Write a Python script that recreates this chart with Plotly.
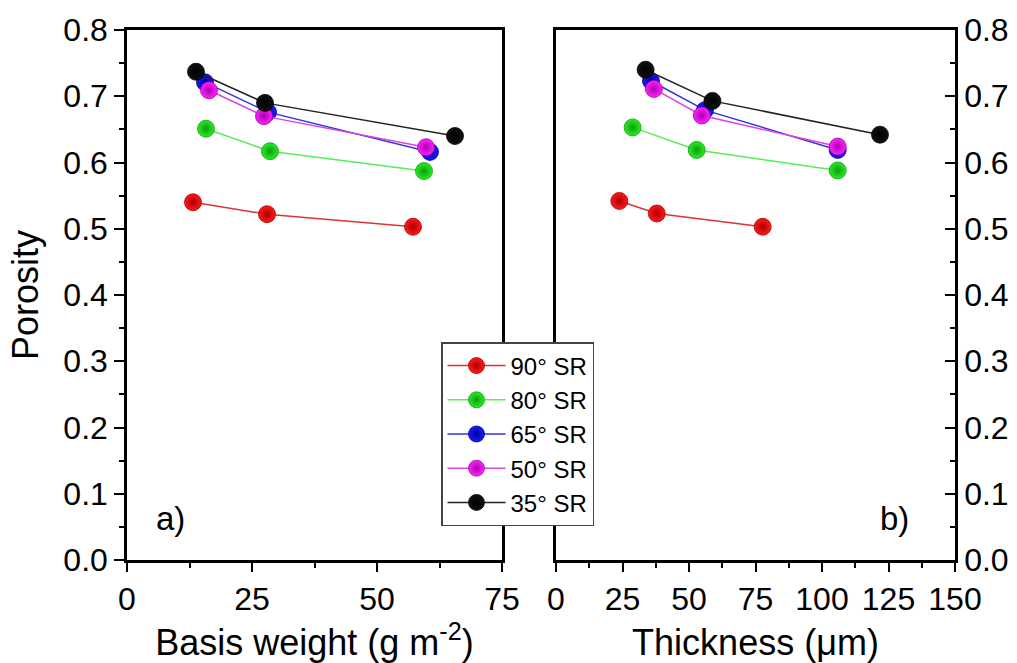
import plotly.graph_objects as go

# ---- data ----
series_names = ["90° SR", "80° SR", "65° SR", "50° SR", "35° SR"]
series_colors = ["#ff1a1a", "#22f022", "#1a1aff", "#ff22ff", "#111111"]
edge_colors = ["#aa0000", "#119911", "#000099", "#aa00aa", "#000000"]
line_colors = ["#dd3333", "#55ee55", "#3333dd", "#dd44dd", "#222222"]

# panel a) basis weight (g m-2)
bw_x = [
    [13.2, 28.0, 57.2],
    [15.8, 28.6, 59.4],
    [15.6, 28.2, 60.6],
    [16.4, 27.4, 59.8],
    [13.8, 27.6, 65.6],
]
bw_y = [
    [0.540, 0.522, 0.503],
    [0.651, 0.617, 0.587],
    [0.721, 0.676, 0.616],
    [0.709, 0.670, 0.623],
    [0.737, 0.690, 0.640],
]

# panel b) thickness (um)
th_x = [
    [23.8, 37.9, 77.7],
    [28.8, 52.9, 105.9],
    [35.7, 56.0, 105.9],
    [36.8, 54.8, 105.9],
    [33.7, 58.8, 121.8],
]
th_y = [
    [0.542, 0.523, 0.503],
    [0.653, 0.619, 0.588],
    [0.723, 0.679, 0.619],
    [0.711, 0.671, 0.624],
    [0.740, 0.693, 0.642],
]

bw_ticks = [0, 25, 50, 75]
th_ticks = [0, 25, 50, 75, 100, 125, 150]
y_ticks = [0.0, 0.1, 0.2, 0.3, 0.4, 0.5, 0.6, 0.7, 0.8]

W, H = 1017, 663
FONT = "Liberation Sans, Arial, sans-serif"

fig = go.Figure()

for i, name in enumerate(series_names):
    marker = dict(
        size=17,
        color=series_colors[i],
        line=dict(color=edge_colors[i], width=0.8),
        gradient=dict(type="radial", color=edge_colors[i]),
    )
    fig.add_trace(go.Scatter(
        x=bw_x[i], y=bw_y[i], mode="lines+markers", name=name,
        line=dict(color=line_colors[i], width=1.5),
        marker=marker, xaxis="x", yaxis="y", legendgroup=name, showlegend=True,
    ))
    fig.add_trace(go.Scatter(
        x=th_x[i], y=th_y[i], mode="lines+markers", name=name,
        line=dict(color=line_colors[i], width=1.5),
        marker=marker, xaxis="x2", yaxis="y2", legendgroup=name, showlegend=False,
    ))

ydom = [(H - 560) / H, (H - 30) / H]
tickfont = dict(family=FONT, size=32, color="black")
titlefont = dict(family=FONT, size=36, color="black")

common_x = dict(
    showline=True, linecolor="black", linewidth=2.5, mirror=True,
    ticks="outside", ticklen=9, tickwidth=2, tickcolor="black",
    showgrid=False, zeroline=False, tickfont=tickfont,
    minor=dict(ticks="outside", ticklen=5, tickwidth=2, tickcolor="black", dtick=12.5),
)

fig.update_layout(
    width=W, height=H,
    margin=dict(l=0, r=0, t=0, b=0),
    paper_bgcolor="white", plot_bgcolor="white",
    font=dict(family=FONT, color="black"),
    xaxis=dict(
        domain=[127 / W, 502 / W], range=[0, 75], anchor="y",
        tickvals=bw_ticks, ticktext=[str(v) for v in bw_ticks],
        title=dict(text="Basis weight (g m<sup>-2</sup>)", font=titlefont, standoff=16),
        automargin=False, **common_x,
    ),
    xaxis2=dict(
        domain=[556 / W, 955 / W], range=[0, 150], anchor="y2",
        tickvals=th_ticks, ticktext=[str(v) for v in th_ticks],
        title=dict(text="Thickness (μm)", font=titlefont, standoff=16),
        automargin=False, **common_x,
    ),
    yaxis=dict(
        domain=ydom, range=[0, 0.8], anchor="x",
        tickvals=y_ticks, ticktext=[f"{v:.1f}" for v in y_ticks],
        showline=True, linecolor="black", linewidth=2.5, mirror=True,
        ticks="outside", ticklen=10, tickwidth=2, tickcolor="black",
        minor=dict(ticks="outside", ticklen=5, tickwidth=2, tickcolor="black", dtick=0.05),
        showgrid=False, zeroline=False, tickfont=tickfont,
        title=dict(text="Porosity", font=titlefont, standoff=14),
        automargin=False,
    ),
    yaxis2=dict(
        domain=ydom, range=[0, 0.8], anchor="x2", side="right",
        tickvals=y_ticks, ticktext=[f"{v:.1f}" for v in y_ticks],
        showline=True, linecolor="black", linewidth=2.5, mirror=True,
        ticks="inside", ticklen=10, tickwidth=2, tickcolor="black",
        minor=dict(ticks="inside", ticklen=5, tickwidth=2, tickcolor="black", dtick=0.05),
        showgrid=False, zeroline=False, tickfont=tickfont,
        automargin=False,
    ),
    legend=dict(
        x=441 / W, y=(H - 342) / H, xanchor="left", yanchor="top",
        bgcolor="white", bordercolor="#444444", borderwidth=1.5,
        font=dict(family=FONT, size=24, color="black"),
        itemwidth=58, tracegroupgap=0,
    ),
    showlegend=True,
    annotations=[
        dict(text="a)", x=8.6, y=0.062, xref="x", yref="y", showarrow=False,
             font=dict(family=FONT, size=33, color="black")),
        dict(text="b)", x=127.4, y=0.062, xref="x2", yref="y2", showarrow=False,
             font=dict(family=FONT, size=33, color="black")),
    ],
)

fig.write_html("out.html")
